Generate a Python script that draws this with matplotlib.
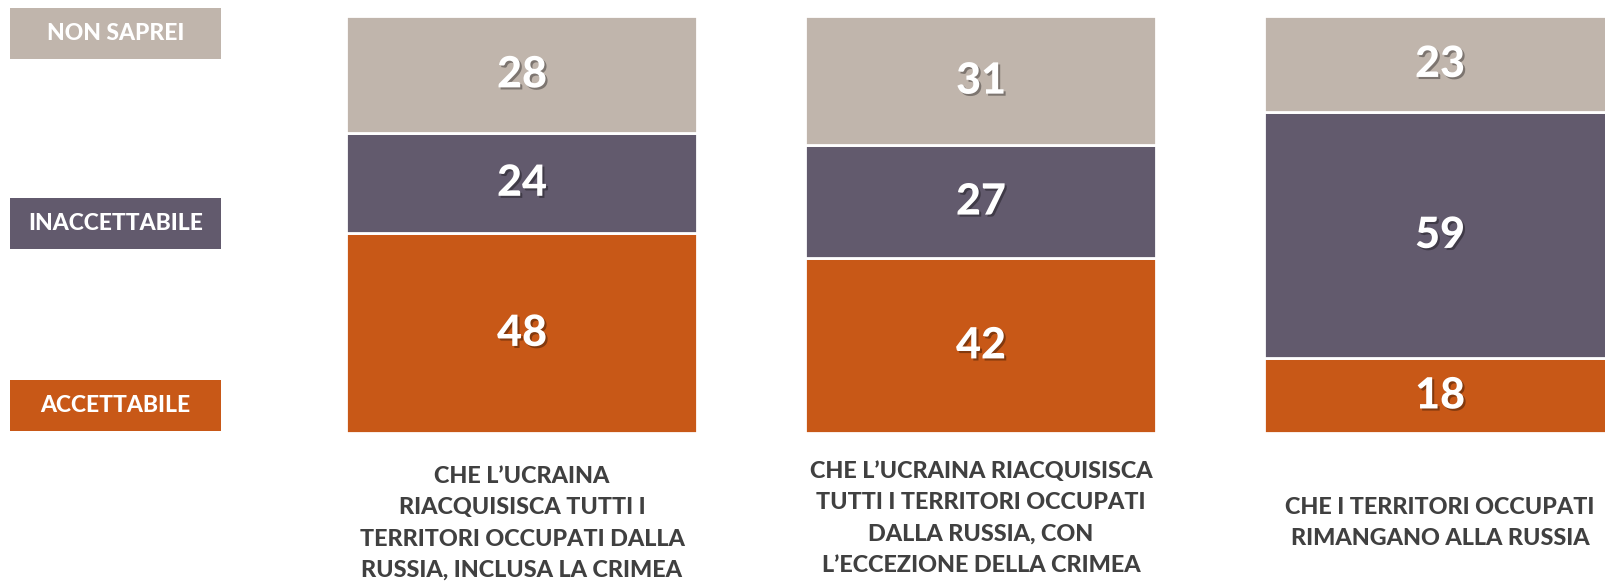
import matplotlib
matplotlib.use("Agg")
import matplotlib.pyplot as plt
import matplotlib.patheffects as pe
import matplotlib.transforms as mtransforms
from matplotlib.patches import Rectangle

plt.rcParams['font.family'] = ['Lato', 'DejaVu Sans']

# dati
categorie = [
    "CHE L\u2019UCRAINA\nRIACQUISISCA TUTTI I\nTERRITORI OCCUPATI DALLA\nRUSSIA, INCLUSA LA CRIMEA",
    "CHE L\u2019UCRAINA RIACQUISISCA\nTUTTI I TERRITORI OCCUPATI\nDALLA RUSSIA, CON\nL\u2019ECCEZIONE DELLA CRIMEA",
    "CHE I TERRITORI OCCUPATI\nRIMANGANO ALLA RUSSIA",
]
accettabile = [48, 42, 18]
inaccettabile = [24, 27, 59]
non_saprei = [28, 31, 23]

serie = ["ACCETTABILE", "INACCETTABILE", "NON SAPREI"]
colori = ["#C85817", "#625A6D", "#C0B5AC"]

W, H = 1606, 585
fig = plt.figure(figsize=(W / 100, H / 100), dpi=100)
fig.patch.set_facecolor("white")

# asse delle barre: x in unita' di categoria, y in percentuale
ax = fig.add_axes([0, 1 - 433 / H, 1, (433 - 16) / H])
passo = 459
x0 = (0 - 522) / passo
x1 = (W - 522) / passo
ax.set_xlim(x0, x1)
ax.set_ylim(0, 100)
ax.axis("off")

xs = list(range(len(categorie)))
ombra = [pe.withSimplePatchShadow(offset=(1.5, -1.5), alpha=0.35, shadow_rgbFace="black")]

bottom = [0] * len(xs)
for valori, col in zip([accettabile, inaccettabile, non_saprei], colori):
    ax.bar(xs, valori, bottom=bottom, width=351 / passo, color=col,
           edgecolor="white", linewidth=2)
    for x, v, b in zip(xs, valori, bottom):
        ax.text(x, b + v / 2, str(v), ha="center", va="center", color="white",
                fontsize=31, fontweight="black", path_effects=ombra)
    bottom = [b + v for b, v in zip(bottom, valori)]

# etichette delle categorie sotto le barre
trans = mtransforms.blended_transform_factory(ax.transData, fig.transFigure)
centri_y = [523.5, 518.5, 523]
for x, lab, cy in zip(xs, categorie, centri_y):
    ax.text(x, 1 - cy / H, lab, transform=trans, ha="center", va="center",
            color="#404040", fontsize=16.8, fontweight="black", linespacing=1.6,
            clip_on=False)

# legenda a sinistra, box colorati
box_y = [380, 198, 8]
for nome, col, y in zip(serie, colori, box_y):
    fig.patches.append(Rectangle((10 / W, 1 - (y + 51) / H), 211 / W, 51 / H,
                                 transform=fig.transFigure, facecolor=col,
                                 edgecolor="none"))
    fig.text((10 + 211 / 2) / W, 1 - (y + 25.5) / H, nome, ha="center", va="center",
             color="white", fontsize=16.5, fontweight="black")

fig.savefig("out.png", dpi=100, facecolor="white")
